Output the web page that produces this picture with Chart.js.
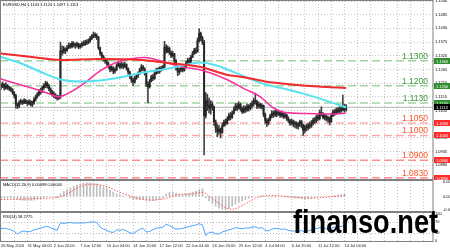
<!DOCTYPE html>
<html>
<head>
<meta charset="utf-8">
<script src="https://cdn.jsdelivr.net/npm/chart.js@4.4.0/dist/chart.umd.min.js"></script>
<style>
html, body { margin: 0; padding: 0; background: #fff; }
#wrap { position: relative; width: 450px; height: 251px; overflow: hidden; background: #fff; }
canvas { position: absolute; left: 0; }
#mark { position: absolute; left: 293px; top: 204px; font: bold 34px "Liberation Sans", Arial, sans-serif; line-height: 34px; color: #000; transform: scaleX(0.8); transform-origin: 0 0; white-space: nowrap; }
</style>
</head>
<body>
<div id="wrap">
  <canvas id="main" width="450" height="180" style="top:0"></canvas>
  <canvas id="macd" width="450" height="32" style="top:180px"></canvas>
  <canvas id="rsi" width="450" height="39" style="top:212px"></canvas>
  <div id="mark">finanso.net</div>
</div>
<script>
// EURUSD H4, 26 May - 14 Jul 2016, one entry per bar
const closes = [
  1.1198,1.1205,1.1190,1.1200,1.1192,1.1188,1.1184,1.1172,1.1160,1.1125,
  1.1118,1.1132,1.1138,1.1130,1.1140,1.1135,1.1128,1.1136,1.1124,1.1130,
  1.1145,1.1155,1.1166,1.1178,1.1175,1.1192,1.1200,1.1210,1.1198,1.1188,
  1.1175,1.1168,1.1160,1.1158,1.1150,1.1155,1.1340,1.1335,1.1348,1.1340,
  1.1352,1.1362,1.1358,1.1370,1.1364,1.1360,1.1368,1.1355,1.1362,1.1370,
  1.1366,1.1375,1.1372,1.1380,1.1390,1.1398,1.1405,1.1400,1.1395,1.1352,
  1.1330,1.1318,1.1305,1.1300,1.1290,1.1278,1.1265,1.1272,1.1258,1.1265,
  1.1280,1.1288,1.1275,1.1285,1.1278,1.1285,1.1270,1.1255,1.1235,1.1222,
  1.1215,1.1230,1.1240,1.1248,1.1262,1.1275,1.1268,1.1250,1.1205,1.1195,
  1.1218,1.1235,1.1228,1.1248,1.1262,1.1255,1.1270,1.1266,1.1275,1.1355,
  1.1338,1.1350,1.1332,1.1320,1.1328,1.1300,1.1270,1.1255,1.1262,1.1270,
  1.1262,1.1275,1.1290,1.1302,1.1295,1.1315,1.1330,1.1342,1.1335,1.1380,
  1.1410,1.1390,1.1375,1.1080,1.1140,1.1120,1.1110,1.1125,1.1115,1.1055,
  1.1030,1.1015,1.1025,1.1012,1.1040,1.1055,1.1048,1.1065,1.1080,1.1072,
  1.1090,1.1105,1.1118,1.1110,1.1125,1.1108,1.1095,1.1110,1.1102,1.1118,
  1.1108,1.1120,1.1128,1.1140,1.1135,1.1118,1.1125,1.1115,1.1120,1.1085,
  1.1060,1.1050,1.1062,1.1078,1.1090,1.1082,1.1095,1.1085,1.1092,1.1080,
  1.1088,1.1075,1.1082,1.1068,1.1060,1.1048,1.1058,1.1045,1.1050,1.1038,
  1.1045,1.1055,1.1040,1.1020,1.1035,1.1030,1.1042,1.1038,1.1050,1.1062,
  1.1058,1.1075,1.1068,1.1092,1.1085,1.1072,1.1078,1.1065,1.1070,1.1055,
  1.1080,1.1095,1.1088,1.1102,1.1095,1.1108,1.1100,1.1115,1.1103,1.1113
];
const highs = [
  1.1210,1.1215,1.1208,1.1212,1.1205,1.1198,1.1195,1.1188,1.1176,1.1165,
  1.1130,1.1140,1.1146,1.1142,1.1148,1.1145,1.1140,1.1144,1.1140,1.1138,
  1.1152,1.1162,1.1172,1.1185,1.1190,1.1198,1.1208,1.1218,1.1215,1.1205,
  1.1192,1.1182,1.1175,1.1168,1.1162,1.1160,1.1375,1.1360,1.1358,1.1352,
  1.1362,1.1372,1.1370,1.1378,1.1376,1.1370,1.1375,1.1370,1.1368,1.1376,
  1.1380,1.1382,1.1385,1.1388,1.1398,1.1405,1.1415,1.1412,1.1408,1.1398,
  1.1355,1.1335,1.1322,1.1312,1.1305,1.1295,1.1282,1.1280,1.1276,1.1272,
  1.1288,1.1300,1.1292,1.1295,1.1292,1.1295,1.1288,1.1272,1.1258,1.1240,
  1.1230,1.1238,1.1248,1.1255,1.1270,1.1285,1.1282,1.1272,1.1252,1.1215,
  1.1225,1.1242,1.1245,1.1255,1.1270,1.1272,1.1276,1.1278,1.1282,1.1378,
  1.1365,1.1360,1.1355,1.1340,1.1338,1.1330,1.1305,1.1275,1.1270,1.1278,
  1.1276,1.1282,1.1298,1.1310,1.1312,1.1322,1.1338,1.1350,1.1352,1.1392,
  1.1428,1.1415,1.1398,1.1382,1.1172,1.1165,1.1150,1.1140,1.1135,1.1118,
  1.1062,1.1045,1.1040,1.1030,1.1050,1.1062,1.1066,1.1075,1.1090,1.1092,
  1.1098,1.1115,1.1128,1.1130,1.1135,1.1130,1.1115,1.1120,1.1118,1.1126,
  1.1124,1.1130,1.1138,1.1150,1.1170,1.1142,1.1135,1.1130,1.1128,1.1122,
  1.1090,1.1068,1.1070,1.1085,1.1100,1.1098,1.1102,1.1100,1.1100,1.1096,
  1.1098,1.1092,1.1090,1.1086,1.1075,1.1065,1.1066,1.1062,1.1058,1.1055,
  1.1052,1.1062,1.1060,1.1045,1.1042,1.1045,1.1050,1.1055,1.1060,1.1070,
  1.1072,1.1082,1.1085,1.1102,1.1115,1.1092,1.1088,1.1082,1.1078,1.1075,
  1.1088,1.1102,1.1105,1.1110,1.1112,1.1115,1.1118,1.1162,1.1125,1.1124
];
const lows = [
  1.1185,1.1192,1.1182,1.1186,1.1184,1.1180,1.1176,1.1165,1.1150,1.1110,
  1.1108,1.1112,1.1126,1.1124,1.1128,1.1128,1.1120,1.1124,1.1118,1.1116,
  1.1126,1.1138,1.1150,1.1160,1.1165,1.1172,1.1185,1.1192,1.1190,1.1180,
  1.1165,1.1158,1.1152,1.1148,1.1142,1.1145,1.1148,1.1322,1.1330,1.1328,
  1.1338,1.1348,1.1350,1.1352,1.1355,1.1350,1.1355,1.1348,1.1350,1.1355,
  1.1360,1.1362,1.1365,1.1368,1.1375,1.1385,1.1392,1.1392,1.1385,1.1345,
  1.1322,1.1310,1.1298,1.1290,1.1282,1.1270,1.1255,1.1258,1.1248,1.1250,
  1.1260,1.1275,1.1268,1.1270,1.1268,1.1272,1.1262,1.1245,1.1228,1.1212,
  1.1200,1.1210,1.1225,1.1232,1.1245,1.1258,1.1260,1.1242,1.1196,1.1132,
  1.1190,1.1215,1.1220,1.1225,1.1245,1.1248,1.1250,1.1258,1.1262,1.1272,
  1.1330,1.1332,1.1325,1.1312,1.1315,1.1292,1.1262,1.1240,1.1245,1.1255,
  1.1255,1.1258,1.1270,1.1285,1.1288,1.1292,1.1312,1.1325,1.1328,1.1335,
  1.1375,1.1380,1.1365,1.0922,1.1070,1.1100,1.1090,1.1085,1.1100,1.1040,
  1.1012,1.0995,1.1005,1.0990,1.1008,1.1035,1.1040,1.1045,1.1060,1.1062,
  1.1068,1.1085,1.1100,1.1098,1.1105,1.1098,1.1088,1.1090,1.1092,1.1096,
  1.1098,1.1102,1.1110,1.1118,1.1125,1.1108,1.1110,1.1108,1.1106,1.1075,
  1.1048,1.1035,1.1042,1.1058,1.1070,1.1072,1.1076,1.1075,1.1080,1.1072,
  1.1074,1.1068,1.1070,1.1060,1.1052,1.1040,1.1042,1.1035,1.1030,1.1028,
  1.1025,1.1035,1.1030,1.1000,1.1010,1.1018,1.1022,1.1028,1.1032,1.1042,
  1.1048,1.1052,1.1060,1.1062,1.1078,1.1066,1.1062,1.1058,1.1052,1.1042,
  1.1052,1.1075,1.1080,1.1084,1.1088,1.1090,1.1092,1.1098,1.1095,1.1097
];

// moving averages: [bar index, price]
const maRed = [[0,1.1329],[20,1.1314],[36,1.1303],[60,1.1307],[85,1.1303],[101,1.1291],[121,1.1275],
  [136,1.1245],[148,1.1233],[160,1.1217],[176,1.1205],[192,1.1197],[209,1.1191]];
const maCyan = [[0,1.1315],[12,1.1290],[24,1.1255],[36,1.1225],[48,1.1217],[60,1.1221],[72,1.1233],
  [86,1.1253],[100,1.1267],[113,1.1285],[121,1.1293],[130,1.1282],[136,1.1268],[148,1.1235],
  [157,1.1211],[170,1.1190],[182,1.1170],[196,1.1142],[209,1.1112]];
const maPink = [[0,1.1227],[12,1.1203],[24,1.1179],[30,1.1165],[35,1.1155],[40,1.1167],[50,1.1207],
  [60,1.1259],[69,1.1291],[80,1.1309],[87,1.1313],[99,1.1295],[108,1.1277],[121,1.1263],[136,1.1227],
  [148,1.1185],[157,1.1155],[165,1.1110],[172,1.1092],[185,1.1088],[200,1.1086],[209,1.1090]];

const greenLevels = [1.1300, 1.1200, 1.1130];
const redLevels = [1.1050, 1.1000, 1.0900, 1.0830];
const lastPrice = 1.1113;
const priceTicks = [1.1540,1.1485,1.1430,1.1375,1.1320,1.1265,1.1210,1.1155,1.1100,1.1045,1.0990,1.0935,1.0880,1.0825];

// MACD histogram, every second bar (0, 2, 4 ...)
const macdMain = [
  -0.0008,-0.0007,-0.0006,-0.0006,-0.0008,-0.0013,-0.0016,-0.0017,-0.0018,-0.0018,
  -0.0016,-0.0012,-0.0008,-0.0003,0.0000,0.0000,-0.0002,-0.0004,0.0012,0.0022,
  0.0030,0.0038,0.0045,0.0051,0.0056,0.0059,0.0060,0.0059,0.0058,0.0055,
  0.0049,0.0042,0.0035,0.0027,0.0019,0.0012,0.0007,0.0003,0.0000,-0.0006,
  -0.0012,-0.0015,-0.0014,-0.0012,-0.0018,-0.0020,-0.0019,-0.0015,-0.0011,-0.0007,
  0.0010,0.0018,0.0020,0.0015,0.0011,0.0009,0.0010,0.0014,0.0019,0.0024,
  0.0031,0.0034,-0.0006,-0.0020,-0.0031,-0.0042,-0.0051,-0.0057,-0.0058,-0.0052,
  -0.0042,-0.0034,-0.0026,-0.0019,-0.0013,-0.0008,-0.0004,0.0000,0.0002,0.0003,
  0.0000,-0.0003,-0.0004,-0.0003,-0.0002,-0.0002,-0.0003,-0.0004,-0.0006,-0.0007,
  -0.0008,-0.0009,-0.0010,-0.0009,-0.0008,-0.0005,-0.0002,0.0001,0.0001,0.0000,
  0.0002,0.0004,0.0006,0.0008,0.0010
];
const macdSignal = [[0,-0.0013],[12,-0.0012],[25,-0.0008],[36,-0.0002],[42,0.0020],[48,0.0044],
  [54,0.0054],[60,0.0051],[66,0.0038],[72,0.0018],[78,0.0004],[84,-0.0010],[92,-0.0016],[99,-0.0010],
  [108,0.0008],[116,0.0012],[122,0.0018],[127,-0.0004],[132,-0.0030],[136,-0.0050],[140,-0.0056],
  [144,-0.0048],[148,-0.0032],[152,-0.0016],[156,-0.0003],[164,0.0005],[176,-0.0002],[188,-0.0008],
  [196,-0.0004],[209,0.0004]];
const macdTicks = [0.00621, 0, -0.00593];

// RSI(14), every second bar
const rsi = [
  46,48,45,42,36,26,34,38,34,36,
  42,45,48,52,55,50,44,40,68,66,
  68,69,67,68,67,68,69,71,72,70,
  52,45,40,34,32,42,40,43,38,31,
  28,36,44,48,33,36,42,48,50,52,
  62,58,52,44,46,47,52,54,58,60,
  65,60,20,33,32,27,26,34,38,42,
  45,50,48,46,49,48,52,53,48,50,
  40,38,45,47,46,44,45,40,38,37,
  36,39,34,38,42,45,48,52,47,45,
  48,52,53,55,57
];
const rsiTicks = [100, 70, 30, 0];

// one label every 16 bars
const timeLabels = ['26 May 2016','31 May 04:00','2 Jun 20:00','7 Jun 12:00','10 Jun 04:00','14 Jun 20:00',
  '17 Jun 12:00','22 Jun 04:00','24 Jun 20:00','29 Jun 12:00','4 Jul 04:00','6 Jul 20:00','11 Jul 12:00','14 Jul 04:00'];

const X_MIN = -0.6, X_MAX = 261.6;
const gridIdx = [];
for (let v = 0; v <= 256; v += 8) gridIdx.push(v);

Chart.defaults.font.family = '"Liberation Sans", Arial, sans-serif';
const tiny = { family: '"Liberation Sans", Arial, sans-serif', size: 4 };
const gridColor = '#c6c6c6';

function xScale(showLabels) {
  return {
    type: 'linear', min: X_MIN, max: X_MAX, offset: false,
    afterBuildTicks: s => { s.ticks = gridIdx.map(v => ({ value: v })); },
    afterFit: s => { s.height = showLabels ? 10 : 0; s.paddingLeft = 0; s.paddingRight = 0; },
    grid: { color: gridColor, lineWidth: 1, drawTicks: false, offset: false },
    border: { display: false, dash: [1, 2] },
    ticks: {
      display: showLabels, autoSkip: false, maxRotation: 0, align: 'start', padding: 2,
      font: tiny, color: '#222',
      callback: v => (v % 16 === 0 ? (timeLabels[v / 16] || '') : '')
    }
  };
}

function yFit(s) { s.width = 17; s.paddingTop = 0; s.paddingBottom = 0; }

const paneFrame = {
  id: 'paneFrame',
  afterDraw(chart, args, opts) {
    const { ctx, chartArea: a } = chart;
    ctx.save();
    ctx.strokeStyle = '#808080';
    ctx.lineWidth = 1;
    ctx.strokeRect(a.left + 0.5, a.top - 0.5, a.right - a.left - 0.5, a.bottom - a.top + 1);
    if (opts.title) {
      ctx.fillStyle = '#000';
      ctx.font = '4px "Liberation Sans", Arial, sans-serif';
      ctx.textAlign = 'left';
      ctx.textBaseline = 'top';
      ctx.fillText(opts.title, a.left + 3, a.top + 2);
    }
    ctx.restore();
  }
};

const levelMarks = {
  id: 'levelMarks',
  afterDraw(chart) {
    const { ctx, chartArea: a } = chart;
    const ys = chart.scales.y;
    ctx.save();
    ctx.font = '8.5px "Liberation Sans", Arial, sans-serif';
    ctx.textAlign = 'right';
    ctx.textBaseline = 'alphabetic';
    greenLevels.forEach(v => {
      ctx.fillStyle = '#3c9a3c';
      ctx.fillText(v.toFixed(4), a.right - 5, ys.getPixelForValue(v) - 2);
    });
    redLevels.forEach(v => {
      ctx.fillStyle = '#ff5226';
      ctx.fillText(v.toFixed(4), a.right - 5, ys.getPixelForValue(v) - 2);
    });
    const tag = (v, bg) => {
      const py = Math.round(ys.getPixelForValue(v));
      ctx.fillStyle = bg;
      ctx.fillRect(a.right + 1, py - 3, 17, 6);
      ctx.fillStyle = '#fff';
      ctx.font = '4px "Liberation Sans", Arial, sans-serif';
      ctx.textAlign = 'left';
      ctx.textBaseline = 'middle';
      ctx.fillText(v.toFixed(4), a.right + 3, py + 0.5);
    };
    greenLevels.forEach(v => tag(v, '#2f8f2f'));
    redLevels.forEach(v => tag(v, '#ff2b2b'));
    tag(lastPrice, '#000');

    const n = closes.length - 1;
    const title = 'EURUSD,H4 ' + closes[n - 1].toFixed(4) + ' ' + highs[n].toFixed(4) + ' ' +
      lows[n].toFixed(4) + ' ' + closes[n].toFixed(4);
    ctx.fillStyle = '#000';
    ctx.font = '4px "Liberation Sans", Arial, sans-serif';
    ctx.textAlign = 'left';
    ctx.textBaseline = 'top';
    ctx.fillText(title, 3, 3);
    ctx.restore();
  }
};

const maLine = (pts, color, width) => ({
  type: 'line',
  data: pts.map(p => ({ x: p[0], y: p[1] })),
  borderColor: color, borderWidth: width, pointRadius: 0,
  tension: 0.4, cubicInterpolationMode: 'monotone', order: 0
});

const levelLine = (v, color) => ({
  type: 'line',
  data: [{ x: X_MIN, y: v }, { x: X_MAX, y: v }],
  borderColor: color, borderWidth: 1.5, borderDash: [8, 4], pointRadius: 0, order: 3
});

const levelSets = [
  ...greenLevels.map(v => levelLine(v, '#a2d4a2')),
  levelLine(redLevels[0], '#ffb2b2'),
  levelLine(redLevels[1], '#ffa8a8'),
  levelLine(redLevels[2], '#ff9090'),
  levelLine(redLevels[3], '#ff8c8c'),
  {
    type: 'line',
    data: [{ x: X_MIN, y: lastPrice }, { x: X_MAX, y: lastPrice }],
    borderColor: '#b4b4b4', borderWidth: 1, pointRadius: 0, order: 3
  }
];

new Chart(document.getElementById('main'), {
  type: 'bar',
  data: {
    datasets: [
      maLine(maRed, '#f22a2a', 2),
      maLine(maCyan, '#56e2ee', 2),
      maLine(maPink, '#f5319c', 1.6),
      {
        data: closes.map((c, i) => ({ x: i, y: [i ? closes[i - 1] : c, c] })),
        backgroundColor: '#262626', barThickness: 1.3, minBarLength: 1, grouped: false, order: 1
      },
      {
        data: highs.map((h, i) => ({ x: i, y: [lows[i], h] })),
        backgroundColor: '#3a3a3a', barThickness: 0.9, grouped: false, order: 2
      },
      ...levelSets
    ]
  },
  options: {
    responsive: false, animation: false, devicePixelRatio: 1,
    layout: { padding: { top: 1, bottom: 1, left: 0, right: 0 } },
    plugins: { legend: { display: false }, tooltip: { enabled: false } },
    scales: {
      x: xScale(false),
      y: {
        position: 'right', min: 1.0825, max: 1.1540,
        afterBuildTicks: s => { s.ticks = priceTicks.map(v => ({ value: v })); },
        afterFit: yFit,
        grid: { color: gridColor, drawTicks: false },
        border: { display: false, dash: [1, 2] },
        ticks: { font: tiny, color: '#000', padding: 2, autoSkip: false, callback: v => v.toFixed(4) }
      }
    }
  },
  plugins: [paneFrame, levelMarks]
});

new Chart(document.getElementById('macd'), {
  type: 'bar',
  data: {
    datasets: [
      {
        type: 'line',
        data: macdSignal.map(p => ({ x: p[0], y: p[1] })),
        borderColor: '#ff5c5c', borderWidth: 1, borderDash: [1.5, 1.5], pointRadius: 0,
        tension: 0.4, cubicInterpolationMode: 'monotone', order: 0
      },
      {
        data: macdMain.map((v, k) => ({ x: k * 2, y: v })),
        backgroundColor: '#bdbdbd', barThickness: 1, grouped: false, order: 1
      }
    ]
  },
  options: {
    responsive: false, animation: false, devicePixelRatio: 1,
    layout: { padding: { top: 1, bottom: 1, left: 0, right: 0 } },
    plugins: {
      legend: { display: false }, tooltip: { enabled: false },
      paneFrame: { title: 'MACD(12,26,9) 0.00098 0.00040' }
    },
    scales: {
      x: xScale(false),
      y: {
        position: 'right', min: -0.0064, max: 0.0068,
        afterBuildTicks: s => { s.ticks = macdTicks.map(v => ({ value: v })); },
        afterFit: yFit,
        grid: { display: false },
        border: { display: false },
        ticks: { font: tiny, color: '#000', padding: 2, autoSkip: false, callback: v => (v === 0 ? '0.00' : v.toFixed(5)) }
      }
    }
  },
  plugins: [paneFrame]
});

new Chart(document.getElementById('rsi'), {
  type: 'line',
  data: {
    datasets: [{
      data: rsi.map((v, k) => ({ x: k * 2, y: v })),
      borderColor: '#4aa2ff', borderWidth: 1, pointRadius: 0, tension: 0
    }]
  },
  options: {
    responsive: false, animation: false, devicePixelRatio: 1,
    layout: { padding: { top: 1, bottom: 0, left: 0, right: 0 } },
    plugins: {
      legend: { display: false }, tooltip: { enabled: false },
      paneFrame: { title: 'RSI(14) 58.2775' }
    },
    scales: {
      x: xScale(true),
      y: {
        position: 'right', min: 0, max: 105,
        afterBuildTicks: s => { s.ticks = rsiTicks.map(v => ({ value: v })); },
        afterFit: yFit,
        grid: {
          drawTicks: false,
          color: c => (c.tick && (c.tick.value === 70 || c.tick.value === 30) ? '#b8b8b8' : 'rgba(0,0,0,0)')
        },
        border: { display: false, dash: [1, 2] },
        ticks: { font: tiny, color: '#000', padding: 2, autoSkip: false }
      }
    }
  },
  plugins: [paneFrame]
});
</script>
</body>
</html>
